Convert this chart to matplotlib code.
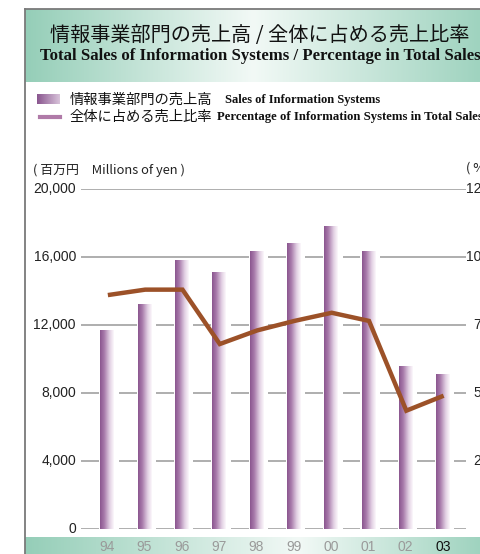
import numpy as np
import matplotlib
matplotlib.use("Agg")
import matplotlib.pyplot as plt
from matplotlib.colors import LinearSegmentedColormap
import matplotlib.transforms as mtransforms

# ---- data ----
years = ["94", "95", "96", "97", "98", "99", "00", "01", "02", "03"]
sales = [11650, 13200, 15800, 15100, 16300, 16800, 17800, 16350, 9550, 9100]
percentage = [8.6, 8.8, 8.8, 6.8, 7.3, 7.65, 7.95, 7.65, 4.35, 4.9]
left_ticks = [0, 4000, 8000, 12000, 16000, 20000]
left_labels = ["0", "4,000", "8,000", "12,000", "16,000", "20,000"]
right_ticks = [2.5, 5.0, 7.5, 10.0, 12.5]
right_labels = ["2.5", "5.0", "7.5", "10.0", "12.5"]

title_jp = "情報事業部門の売上高 / 全体に占める売上比率"
title_en = "Total Sales of Information Systems / Percentage in Total Sales"
leg1_jp = "情報事業部門の売上高"
leg1_en = "Sales of Information Systems"
leg2_jp = "全体に占める売上比率"
leg2_en = "Percentage of Information Systems in Total Sales"
unit_left = "( 百万円　Millions of yen )"
unit_right = "( %)"

W, H = 481, 554
fig = plt.figure(figsize=(W / 100, H / 100), dpi=100)
fig.patch.set_facecolor("white")

def fx(px):
    return px / W

def fy(py):
    return 1 - py / H

JP = ["Noto Sans CJK JP", "DejaVu Sans"]
SANS = ["Liberation Sans", "DejaVu Sans"]
SERIF = ["Liberation Serif", "DejaVu Serif"]

teal_cmap = LinearSegmentedColormap.from_list(
    "teal", [(0, "#95ceb8"), (0.5, "#f2f9f6"), (1, "#9fd3bf")])
bar_cmap = LinearSegmentedColormap.from_list(
    "bar", [(0, "#8a568f"), (0.3, "#a87aab"), (0.7, "#e2d0e3"), (1, "#fcf8fc")])

# ---- title band ----
bg = fig.add_axes([fx(25), fy(82), fx(481 - 25), (82 - 9) / H])
bg.imshow(np.linspace(0, 1, 256)[None, :], cmap=teal_cmap, aspect="auto",
          extent=[0, 1, 0, 1])
bg.set_axis_off()

# ---- bottom band ----
bb = fig.add_axes([fx(25), 0, fx(481 - 25), (554 - 537) / H])
bb.imshow(np.linspace(0, 1, 256)[None, :], cmap=LinearSegmentedColormap.from_list(
    "teal2", [(0, "#95ceb8"), (0.6, "#f2f9f6"), (1, "#9fd3bf")]), aspect="auto",
          extent=[0, 1, 0, 1])
bb.set_axis_off()

# border lines
fig.add_artist(plt.Line2D([fx(25), fx(25)], [0, fy(9)], color="#7a7a7a", lw=1.3))
fig.add_artist(plt.Line2D([fx(25), 1], [fy(9), fy(9)], color="#7a7a7a", lw=1.3))

# titles
fig.text(fx(50), fy(35), title_jp, family=JP, fontsize=14.5, va="center",
         ha="left", color="#111111")
fig.text(fx(40), fy(56), title_en, family=SERIF, fontsize=12.05, weight="bold",
         va="center", ha="left", color="#111111")

# legend
lg = fig.add_axes([fx(37), fy(104), fx(23), 10 / H])
lg.imshow(np.linspace(0, 1, 64)[None, :], cmap=LinearSegmentedColormap.from_list(
    "lg", ["#8a568f", "#d8c3da"]), aspect="auto", extent=[0, 1, 0, 1])
lg.set_axis_off()
fig.add_artist(plt.Line2D([fx(40), fx(60)], [fy(117), fy(117)], color="#b07aa8", lw=3))
fig.text(fx(70), fy(100), leg1_jp, family=JP, fontsize=10.3, va="center", color="#111111")
fig.text(fx(225), fy(100), leg1_en, family=SERIF, fontsize=9, weight="bold",
         va="center", color="#111111")
fig.text(fx(70), fy(117), leg2_jp, family=JP, fontsize=10.3, va="center", color="#111111")
fig.text(fx(217), fy(117), leg2_en, family=SERIF, fontsize=9.2, weight="bold",
         va="center", color="#111111")

# ---- main axes ----
ax = fig.add_axes([fx(81), fy(529), fx(466 - 81), (529 - 189) / H])
ax.set_facecolor("none")
x = np.arange(len(years))
for t in left_ticks:
    ax.axhline(t, color="#a8a8a8", lw=1.3, zorder=1)

bw = 0.36
for xi, v in zip(x, sales):
    ax.add_patch(plt.Rectangle((xi - 0.21, 0.5), 0.52, v, facecolor="white",
                               edgecolor="none", zorder=2))
    ax.imshow(np.linspace(0, 1, 64)[None, :], cmap=bar_cmap, aspect="auto",
              extent=[xi - bw / 2, xi + bw / 2, 0, v], zorder=3)

ax.set_xlim(-0.70, 9.62)
ax.set_ylim(0, 20000)
for s in ax.spines.values():
    s.set_visible(False)
ax.set_xticks([])
ax.set_yticks([])

ax2 = ax.twinx()
ax2.plot(x + 0.02, percentage, color="#9c5128", lw=3.2, solid_capstyle="butt",
         solid_joinstyle="miter", zorder=5)
ax2.set_ylim(0, 12.5)
ax2.set_xlim(-0.70, 9.62)
for s in ax2.spines.values():
    s.set_visible(False)
ax2.set_yticks([])
ax2.set_xticks([])

# tick labels
trL = mtransforms.blended_transform_factory(fig.transFigure, ax.transData)
for t, lab in zip(left_ticks, left_labels):
    fig.text(fx(76), t, lab, transform=trL, ha="right", va="center",
             family=SANS, fontsize=10, color="#222222")
trR = mtransforms.blended_transform_factory(fig.transFigure, ax2.transData)
for t, lab in zip(right_ticks, right_labels):
    fig.text(fx(493), t, lab, transform=trR, ha="right", va="center",
             family=SANS, fontsize=10, color="#222222")

trX = mtransforms.blended_transform_factory(ax.transData, fig.transFigure)
for xi, y in zip(x, years):
    fig.text(xi, fy(547), y, transform=trX, ha="center", va="center",
             family=SANS, fontsize=10,
             color="#111111" if y == "03" else "#9a9a9a")

fig.text(fx(33), fy(170), unit_left, family=JP + SANS, fontsize=9.3,
         va="center", ha="left", color="#222222")
fig.text(fx(466), fy(168), unit_right, family=JP, fontsize=9.3,
         va="center", ha="left", color="#222222")

fig.savefig("out.png", dpi=100)
